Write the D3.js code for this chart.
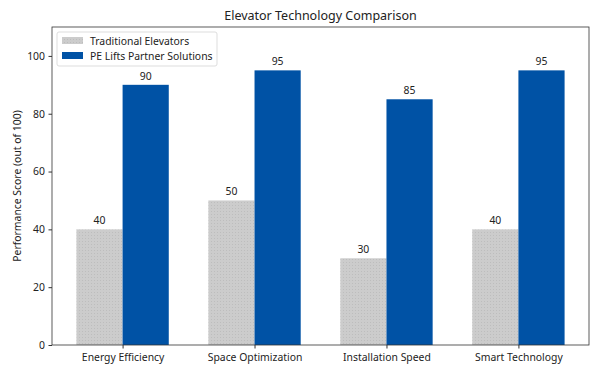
<!DOCTYPE html>
<html><head><meta charset="utf-8">
<script src="https://cdn.jsdelivr.net/npm/d3@7"></script>
<style>body{margin:0;background:#fff}svg{display:block;font-family:"Noto Sans",sans-serif}</style>
</head><body><svg id="c" width="600" height="375"></svg>
<script>
const categories = ["Energy Efficiency","Space Optimization","Installation Speed","Smart Technology"];
const seriesNames = ["Traditional Elevators","PE Lifts Partner Solutions"];
const traditional = [40,50,30,40];
const peLifts = [90,95,85,95];
const yTicks = [0,20,40,60,80,100];
const colors = ["#cccccc","#0052a5"];

const svg = d3.select("#c");
const m = {l:52,r:589,t:27,b:345};
const fs = 10.4;
const defs = svg.append("defs");
const pat = defs.append("pattern").attr("id","dots").attr("patternUnits","userSpaceOnUse").attr("width",3).attr("height",3);
pat.append("rect").attr("width",3).attr("height",3).attr("fill",colors[0]);
pat.append("rect").attr("x",1).attr("y",1).attr("width",1).attr("height",1).attr("fill","#bdbdbd");

const x = d3.scaleLinear().domain([-0.535,3.535]).range([m.l,m.r]);
const y = d3.scaleLinear().domain([0,110]).range([m.b,m.t]);
const bw = 0.35;
const series = [traditional, peLifts];

series.forEach((vals,si)=>{
  const off = si===0 ? -bw : 0;
  svg.append("g").selectAll("rect").data(vals).join("rect")
    .attr("x",(d,i)=>x(i+off)).attr("width",x(bw)-x(0))
    .attr("y",d=>y(d)).attr("height",d=>y(0)-y(d))
    .attr("fill", si===0 ? "url(#dots)" : colors[1]);
  svg.append("g").selectAll("text").data(vals).join("text")
    .attr("x",(d,i)=>x(i+off+bw/2)).attr("y",d=>y(d)-5)
    .attr("text-anchor","middle").attr("font-size",fs).attr("fill","#222")
    .text(d=>d);
});

const xa = svg.append("g").attr("transform",`translate(0,${m.b})`)
  .call(d3.axisBottom(x).tickValues(d3.range(categories.length)).tickFormat(i=>categories[i]).tickSize(3.5).tickPadding(5));
const ya = svg.append("g").attr("transform",`translate(${m.l},0)`)
  .call(d3.axisLeft(y).tickValues(yTicks).tickSize(3.5).tickPadding(3.5));
[xa,ya].forEach(a=>{a.select(".domain").remove();a.selectAll("text").attr("font-size",fs).attr("fill","#222").attr("font-family","Noto Sans");a.selectAll("line").attr("stroke","#333");});

svg.append("rect").attr("x",m.l).attr("y",m.t).attr("width",m.r-m.l).attr("height",m.b-m.t)
  .attr("fill","none").attr("stroke","#333").attr("stroke-width",0.8);

svg.append("text").attr("x",(m.l+m.r)/2).attr("y",20).attr("text-anchor","middle")
  .attr("font-size",12.5).attr("fill","#222").text("Elevator Technology Comparison");
svg.append("text").attr("transform",`translate(21,${(m.t+m.b)/2}) rotate(-90)`).attr("text-anchor","middle")
  .attr("font-size",fs).attr("fill","#222").text("Performance Score (out of 100)");

const lg = svg.append("g").attr("transform","translate(57,32)");
lg.append("rect").attr("width",160).attr("height",34).attr("rx",2).attr("fill","#fff").attr("fill-opacity",0.8).attr("stroke","#ddd");
seriesNames.forEach((n,i)=>{
  lg.append("rect").attr("x",5).attr("y",5+i*15).attr("width",21).attr("height",7).attr("fill",i===0?"url(#dots)":colors[1]);
  lg.append("text").attr("x",33).attr("y",12.5+i*15).attr("font-size",fs).attr("fill","#222").text(n);
});
</script></body></html>
